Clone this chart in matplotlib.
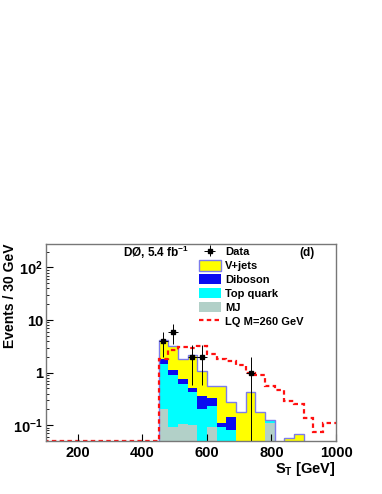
import numpy as np
import matplotlib
matplotlib.use('Agg')
import matplotlib.pyplot as plt
from matplotlib.patches import Patch
from matplotlib.lines import Line2D
from matplotlib.ticker import FixedLocator, FixedFormatter, NullLocator

plt.rcParams['font.family'] = ['Liberation Sans', 'DejaVu Sans']
plt.rcParams['font.weight'] = 'bold'
plt.rcParams['axes.labelweight'] = 'bold'
plt.rcParams['mathtext.fontset'] = 'custom'
plt.rcParams['mathtext.rm'] = 'Liberation Sans:bold'
plt.rcParams['mathtext.it'] = 'Liberation Sans:bold'
plt.rcParams['mathtext.bf'] = 'Liberation Sans:bold'

# --- data (30 GeV bins starting at 450 GeV) ---
bin_edges = np.arange(450, 901, 30)
mj = [0.206, 0.092, 0.107, 0.100, 0.0, 0.092, 0.0, 0.0, 0.0, 0.0, 0.0, 0.110, 0.0, 0.0, 0.0]
top_quark = [1.23, 0.80, 0.49, 0.32, 0.20, 0.136, 0.092, 0.080, 0.0, 0.0, 0.0, 0.008, 0.0, 0.0, 0.0]
diboson = [0.35, 0.21, 0.145, 0.10, 0.16, 0.10, 0.019, 0.063, 0.0, 0.0, 0.0, 0.0, 0.0, 0.0, 0.0]
vjets = [2.41, 2.10, 1.10, 1.63, 0.71, 0.24, 0.44, 0.127, 0.18, 0.42, 0.175, 0.009, 0.0, 0.058, 0.068]

# LQ signal, 30 GeV bins from 0 GeV
lq_edges = np.arange(0, 1021, 30)
lq = [0.0] * 15 + [1.80, 2.75, 3.10, 3.00, 3.20, 2.30, 1.80, 1.65, 1.40, 0.98,
                   0.91, 0.55, 0.46, 0.29, 0.255, 0.135, 0.074, 0.11, 0.11]

data_x = [465, 495, 555, 585, 735]
data_y = [4, 6, 2, 2, 1]

ymin, ymax = 0.05, 280
floor = 1e-3

c_vjets = '#ffff00'
c_outline = '#7c7cec'
c_dib = '#0a0af0'
c_top = '#00ffff'
c_mj = '#b2d0c8'
c_lq = '#ff1010'
lq_dash = (0, (2.0, 1.5))

fig = plt.figure(figsize=(3.82, 4.94), dpi=100)
ax = fig.add_axes([0.1196, 0.1073, 0.7600, 0.3988])

# stacked backgrounds, drawn as cumulative histograms
s_mj = np.array(mj)
s_top = s_mj + np.array(top_quark)
s_dib = s_top + np.array(diboson)
s_tot = s_dib + np.array(vjets)

ax.stairs(np.clip(s_tot, floor, None), bin_edges, baseline=floor, fill=True, color=c_vjets, lw=0)
ax.stairs(np.clip(s_dib, floor, None), bin_edges, baseline=floor, fill=True, color=c_dib, lw=0)
ax.stairs(np.clip(s_top, floor, None), bin_edges, baseline=floor, fill=True, color=c_top, lw=0)
ax.stairs(np.clip(s_mj, floor, None), bin_edges, baseline=floor, fill=True, color=c_mj, lw=0)
ax.stairs(np.clip(s_tot, floor, None), bin_edges, baseline=floor, fill=False, color=c_outline, lw=1.0)

# LQ signal
ax.stairs(np.clip(lq, ymin, None), lq_edges, baseline=None, color=c_lq, lw=1.6,
          linestyle=lq_dash)

# data
err = np.sqrt(data_y)
eb = ax.errorbar(data_x, data_y, yerr=err, xerr=15, fmt='s', color='black',
                 markersize=2.8, elinewidth=0.7, capsize=0)

ax.set_yscale('log')
ax.set_xlim(100, 1000)
ax.set_ylim(ymin, ymax)

ax.xaxis.set_major_locator(FixedLocator([200, 400, 600, 800, 1000]))
ax.xaxis.set_minor_locator(NullLocator())
ax.yaxis.set_major_locator(FixedLocator([0.1, 1, 10, 100]))
ax.yaxis.set_major_formatter(FixedFormatter(['10$^{-1}$', '1', '10', '10$^{2}$']))
minor = [m * 10.0 ** e for e in range(-2, 3) for m in range(2, 10)]
ax.yaxis.set_minor_locator(FixedLocator([v for v in minor if ymin <= v <= ymax]))
ax.yaxis.set_minor_formatter(FixedFormatter([]))

ax.tick_params(axis='both', which='both', direction='in', top=False, right=False,
               labelsize=10.5, colors='black')
ax.tick_params(axis='y', which='major', length=5, width=0.8, pad=2)
ax.tick_params(axis='y', which='minor', length=2.5, width=0.6)
ax.tick_params(axis='x', which='major', length=5, width=0.8, pad=3.5)
for sp in ax.spines.values():
    sp.set_color('#777777')
    sp.set_linewidth(1.0)

ax.set_ylabel('Events / 30 GeV', fontsize=10, loc='top')
ax.yaxis.set_label_coords(-0.098, 1.0)
ax.set_xlabel('S$_T$ [GeV]', fontsize=10.5, loc='right')
ax.xaxis.set_label_coords(1.0, -0.096)

ax.text(0.267, 0.955, 'DØ, 5.4 fb$^{-1}$', transform=ax.transAxes, fontsize=8.5,
        ha='left', va='center')
ax.text(0.90, 0.955, '(d)', transform=ax.transAxes, fontsize=8.5, ha='center', va='center')

handles = [
    eb,
    Patch(facecolor=c_vjets, edgecolor=c_outline, linewidth=1.0),
    Patch(facecolor=c_dib, edgecolor='none'),
    Patch(facecolor=c_top, edgecolor='none'),
    Patch(facecolor=c_mj, edgecolor='none'),
    Line2D([], [], color=c_lq, lw=1.6, linestyle=lq_dash),
]
labels = ['Data', 'V+jets', 'Diboson', 'Top quark', 'MJ', 'LQ M=260 GeV']
ax.legend(handles, labels, loc='upper left', bbox_to_anchor=(0.528, 0.99),
          frameon=False, fontsize=8, handlelength=1.95, handleheight=1.1,
          labelspacing=0.25, handletextpad=0.4, borderpad=0, borderaxespad=0)

fig.savefig('out.png', dpi=100)
